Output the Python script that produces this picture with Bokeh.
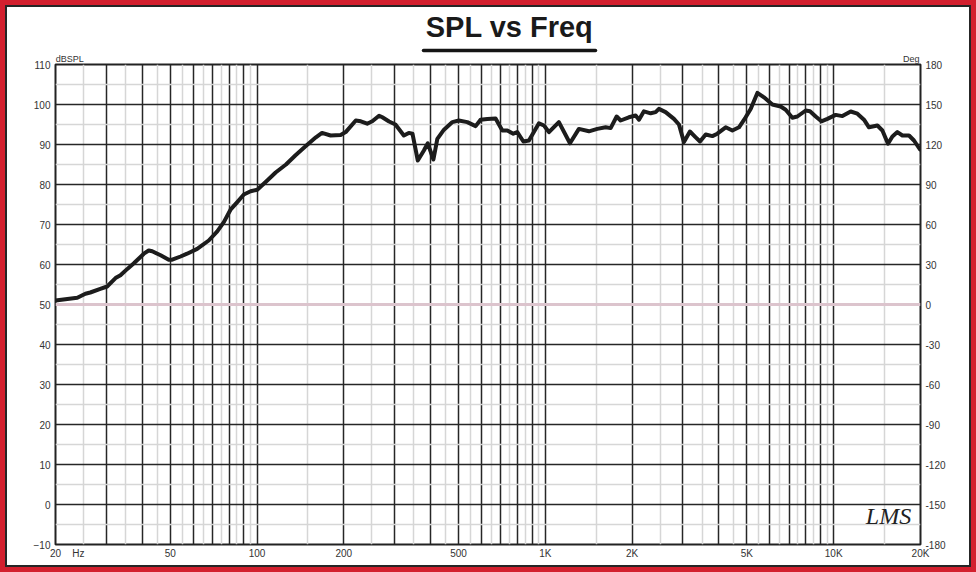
from bokeh.plotting import figure
from bokeh.models import FixedTicker, Range1d, LinearAxis, LogAxis, Label
from bokeh.embed import file_html
from bokeh.resources import INLINE

# ---- data ----
freq = [20, 23.8, 25.4, 26.4, 28.6, 30.2, 32.3, 33.6, 35.5, 37.4, 40.5, 42.1, 43.3, 46.3, 49.4,
        50.8, 54.3, 57.2, 62, 68, 72.8, 76.7, 80.9, 85.4, 90, 95, 100.2, 108.5, 116, 126, 136,
        147, 160, 168, 180, 195, 203, 220, 229, 241, 251, 265, 272, 287, 302, 323, 336, 346,
        361, 379, 391, 409, 422, 445, 476, 501, 536, 573, 596, 629, 672, 709, 738, 774, 799,
        839, 877, 950, 989, 1029, 1114, 1217, 1307, 1416, 1514, 1618, 1684, 1767, 1824, 1948,
        2056, 2112, 2197, 2318, 2412, 2476, 2612, 2792, 2906, 3024, 3172, 3322, 3438, 3598,
        3794, 3948, 4220, 4452, 4694, 4950, 5152, 5436, 5730, 6126, 6546, 6814, 7188, 7482,
        7994, 8274, 8660, 9064, 9508, 10158, 10718, 11454, 12084, 12736, 13254, 14176, 14752,
        15426, 15980, 16630, 17308, 18246, 18986, 19918]
spl = [51.0, 51.7, 52.7, 53.0, 53.9, 54.5, 56.6, 57.3, 58.9, 60.3, 62.7, 63.5, 63.3, 62.3, 61.2,
       61.2, 62.0, 62.7, 63.9, 66.0, 68.3, 70.6, 73.7, 75.6, 77.5, 78.3, 78.7, 81.0, 83.0, 85.0, 87.3,
       89.5, 91.8, 92.9, 92.25, 92.4, 93.1, 96.0, 95.8, 95.2, 95.8, 97.2, 96.8, 95.75, 95.0, 92.25, 92.9, 92.7,
       86.0, 88.5, 90.3, 86.25, 91.4, 93.7, 95.6, 96.0, 95.6, 94.6, 96.2, 96.4, 96.5, 93.5, 93.5, 92.7, 93.1,
       90.75, 91.0, 95.3, 94.75, 93.1, 95.6, 90.3, 93.9, 93.3, 93.9, 94.3, 94.1, 97.0, 96.0, 96.8,
       97.25, 96.2, 98.3, 97.8, 98.1, 98.9, 98.1, 96.4, 95.0, 90.6, 93.25, 91.8, 90.75, 92.5,
       92.1, 92.7, 94.3, 93.5, 94.3, 96.8, 98.9, 102.9, 101.8, 100.0, 99.5, 98.7, 96.7, 97.0,
       98.5, 98.3, 97.0, 95.8, 96.4, 97.4, 97.1, 98.25, 97.7, 96.2, 94.3, 94.75, 93.5,
       90.2, 92.0, 93.1, 92.25, 92.25, 91.0, 88.75]

phase_freq = [20, 20000]
phase_deg = [0, 0]

x_tick_vals = [20, 50, 100, 200, 500, 1000, 2000, 5000, 10000, 20000]
x_tick_text = ["20", "50", "100", "200", "500", "1K", "2K", "5K", "10K", "20K"]
x_grid_major = [30, 40, 50, 60, 70, 80, 90, 100, 200, 300, 400, 500, 600, 700, 800, 900,
                1000, 2000, 3000, 4000, 5000, 6000, 7000, 8000, 9000, 10000]
x_grid_minor = [25, 35, 45, 55, 65, 75, 85, 95, 150, 250, 350, 450, 550, 650, 750, 850, 950,
                1500, 2500, 3500, 4500, 5500, 6500, 7500, 8500, 9500, 15000]
y_ticks = [-10, 0, 10, 20, 30, 40, 50, 60, 70, 80, 90, 100, 110]
y_minor = [-5, 5, 15, 25, 35, 45, 55, 65, 75, 85, 95, 105]
deg_ticks = [-180, -150, -120, -90, -60, -30, 0, 30, 60, 90, 120, 150, 180]
deg_text = ["-180", "-150", "-120", "-90", "-60", "-30", "0", "30", "60", "90", "120", "150", "180"]

TITLE = "SPL vs Freq"

# layout anchors (in Hz along the log x axis) for the captions, title and its rule
HZ_CAPTION_AT = 24.0
DBSPL_CAPTION_AT = 22.4
DEG_CAPTION_AT = 18570
TITLE_RULE = (378, 1494)
TITLE_AT = 751

FONT = "Liberation Sans"
TXT = "#333333"


def bare(ax):
    ax.axis_line_color = None
    ax.major_tick_line_color = None
    ax.minor_tick_line_color = None
    ax.major_tick_out = 0
    ax.major_tick_in = 0
    ax.minor_tick_out = 0
    ax.minor_tick_in = 0


p = figure(x_axis_type="log", x_range=Range1d(20, 20000), y_range=Range1d(-10, 110),
           frame_width=865, frame_height=480,
           min_border_left=55, min_border_right=56, min_border_top=64, min_border_bottom=28,
           output_backend="svg", toolbar_location=None,
           background_fill_color="white", border_fill_color="white", border_fill_alpha=0,
           outline_line_color="#222222", outline_line_width=2)
p.styles = {"background-color": "white",
            "box-shadow": "inset 0 0 0 5px #d3202e, inset 0 0 0 7px #262626"}

# bottom axis (frequency) with the "Hz" caption as an extra label
p.xaxis.ticker = FixedTicker(ticks=x_tick_vals + [HZ_CAPTION_AT])
p.xaxis.major_label_overrides = dict(zip(x_tick_vals + [HZ_CAPTION_AT], x_tick_text + ["Hz"]))
# left axis
p.yaxis.ticker = FixedTicker(ticks=y_ticks)
for ax in (p.xaxis[0], p.yaxis[0]):
    bare(ax)
    ax.major_label_text_font = FONT
    ax.major_label_text_font_size = "10px"
    ax.major_label_text_color = TXT
p.xaxis.major_label_standoff = 3
p.yaxis.major_label_standoff = 5

# right axis (Deg)
p.extra_y_ranges = {"deg": Range1d(-180, 180)}
rax = LinearAxis(y_range_name="deg", ticker=FixedTicker(ticks=deg_ticks),
                 major_label_overrides=dict(zip(deg_ticks, deg_text)),
                 major_label_text_font=FONT, major_label_text_font_size="10px",
                 major_label_text_color=TXT, major_label_standoff=5)
bare(rax)
p.add_layout(rax, "right")

# top: unit captions (dBSPL / Deg)
cap = LogAxis(ticker=FixedTicker(ticks=[DBSPL_CAPTION_AT, DEG_CAPTION_AT]),
              major_label_overrides={DBSPL_CAPTION_AT: "dBSPL", DEG_CAPTION_AT: "Deg"},
              major_label_text_font=FONT, major_label_text_font_size="9px",
              major_label_text_color=TXT, major_label_standoff=1)
bare(cap)
p.add_layout(cap, "above")

# top: title with its underline rule
ttl = LogAxis(ticker=FixedTicker(ticks=[TITLE_AT]), bounds=TITLE_RULE,
              major_label_overrides={TITLE_AT: TITLE},
              major_label_text_font=FONT, major_label_text_font_style="bold",
              major_label_text_font_size="29px", major_label_text_color="#1a1a1a",
              major_label_standoff=8)
bare(ttl)
ttl.axis_line_color = "#151515"
ttl.axis_line_width = 3.5
ttl.axis_line_cap = "round"
p.add_layout(ttl, "above")

# grids
p.xgrid.ticker = FixedTicker(ticks=x_grid_major, minor_ticks=x_grid_minor)
p.ygrid.ticker = FixedTicker(ticks=y_ticks, minor_ticks=y_minor)
for g in (p.xgrid[0], p.ygrid[0]):
    g.grid_line_color = "#262626"
    g.grid_line_width = 1.5
    g.minor_grid_line_color = "#d6d6d6"
    g.minor_grid_line_width = 1.5

# phase line and SPL curve
p.line(phase_freq, phase_deg, y_range_name="deg", line_color="#dcc4cd", line_width=3)
p.line(freq, spl, line_color="#1c1c1c", line_width=4, line_join="round", line_cap="round")

p.add_layout(Label(x=833, y=29, x_units="screen", y_units="screen", text="LMS",
                   text_font="Liberation Serif", text_font_style="italic", text_font_size="24px",
                   text_color="#222222", text_align="center", text_baseline="middle"))

open("out.html", "w").write(file_html(p, INLINE))
